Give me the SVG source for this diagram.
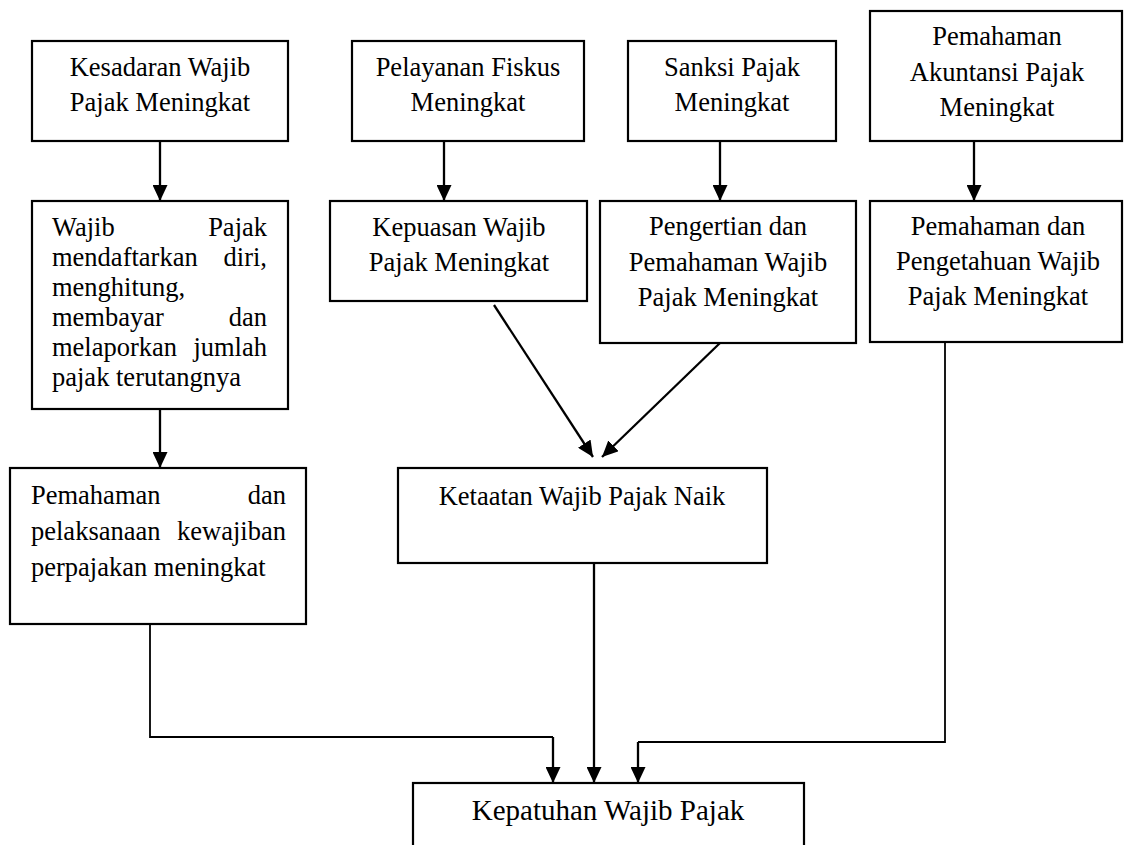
<svg xmlns="http://www.w3.org/2000/svg" width="1124" height="845" viewBox="0 0 1124 845">
<style>
.box{fill:#fff;stroke:#000;stroke-width:2.2}
.t{font-family:"Liberation Serif","Times New Roman",serif;font-size:26.5px;fill:#000}
.c{text-anchor:middle}
.e{text-anchor:end}
.big{font-size:29px}
.ln{fill:none;stroke:#000;stroke-width:2.3}
.hl{fill:none;stroke:#000;stroke-width:1.8}
</style>
<defs>
<marker id="ah" viewBox="0 0 16 15" refX="16" refY="7.5" markerWidth="16" markerHeight="15" markerUnits="userSpaceOnUse" orient="auto">
<path d="M0,0 L16,7.5 L0,15 z" fill="#000"/>
</marker>
</defs>
<rect width="1124" height="845" fill="#fff"/>
<g id="connectors">
<line class="ln" x1="160" y1="141" x2="160" y2="201" marker-end="url(#ah)"/>
<line class="ln" x1="444" y1="141" x2="444" y2="201" marker-end="url(#ah)"/>
<line class="ln" x1="720" y1="141" x2="720" y2="201" marker-end="url(#ah)"/>
<line class="ln" x1="974" y1="141" x2="974" y2="201" marker-end="url(#ah)"/>
<line class="ln" x1="160" y1="409" x2="160" y2="468" marker-end="url(#ah)"/>
<line class="ln" x1="494" y1="305" x2="593" y2="457" marker-end="url(#ah)"/>
<line class="ln" x1="720" y1="343" x2="602" y2="457" marker-end="url(#ah)"/>
<polyline class="hl" points="150,624 150,737 553,737"/>
<line class="ln" x1="553" y1="737" x2="553" y2="783" marker-end="url(#ah)"/>
<line class="ln" x1="594" y1="563" x2="594" y2="783" marker-end="url(#ah)"/>
<polyline class="hl" points="945,342 945,742 638,742"/>
<line class="ln" x1="638" y1="742" x2="638" y2="783" marker-end="url(#ah)"/>
</g>
<g id="n-kesadaran">
<rect class="box" x="32" y="41" width="256" height="100"/>
<text class="t c" x="160" y="76">Kesadaran Wajib</text>
<text class="t c" x="160" y="111">Pajak Meningkat</text>
</g>
<g id="n-pelayanan">
<rect class="box" x="352" y="41" width="232" height="100"/>
<text class="t c" x="468" y="76">Pelayanan Fiskus</text>
<text class="t c" x="468" y="111">Meningkat</text>
</g>
<g id="n-sanksi">
<rect class="box" x="628" y="41" width="208" height="100"/>
<text class="t c" x="732" y="76">Sanksi Pajak</text>
<text class="t c" x="732" y="111">Meningkat</text>
</g>
<g id="n-akuntansi">
<rect class="box" x="870" y="11" width="252" height="130"/>
<text class="t c" x="997" y="45">Pemahaman</text>
<text class="t c" x="997" y="81">Akuntansi Pajak</text>
<text class="t c" x="997" y="116">Meningkat</text>
</g>
<g id="n-wajib">
<rect class="box" x="32" y="201" width="256" height="208"/>
<text class="t" x="52" y="236">Wajib</text><text class="t e" x="267" y="236">Pajak</text>
<text class="t" x="52" y="266">mendaftarkan</text><text class="t e" x="267" y="266">diri,</text>
<text class="t" x="52" y="296">menghitung,</text>
<text class="t" x="52" y="326">membayar</text><text class="t e" x="267" y="326">dan</text>
<text class="t" x="52" y="356">melaporkan</text><text class="t e" x="267" y="356">jumlah</text>
<text class="t" x="52" y="386">pajak terutangnya</text>
</g>
<g id="n-kepuasan">
<rect class="box" x="330" y="201" width="257" height="100"/>
<text class="t c" x="459" y="236">Kepuasan Wajib</text>
<text class="t c" x="459" y="271">Pajak Meningkat</text>
</g>
<g id="n-pengertian">
<rect class="box" x="600" y="201" width="256" height="142"/>
<text class="t c" x="728" y="235">Pengertian dan</text>
<text class="t c" x="728" y="271">Pemahaman Wajib</text>
<text class="t c" x="728" y="306">Pajak Meningkat</text>
</g>
<g id="n-pengetahuan">
<rect class="box" x="870" y="201" width="252" height="141"/>
<text class="t c" x="998" y="235">Pemahaman dan</text>
<text class="t c" x="998" y="270">Pengetahuan Wajib</text>
<text class="t c" x="998" y="305">Pajak Meningkat</text>
</g>
<g id="n-pelaksanaan">
<rect class="box" x="10" y="468" width="296" height="156"/>
<text class="t" x="31" y="504">Pemahaman</text><text class="t e" x="286" y="504">dan</text>
<text class="t" x="31" y="540">pelaksanaan</text><text class="t e" x="286" y="540">kewajiban</text>
<text class="t" x="31" y="576">perpajakan meningkat</text>
</g>
<g id="n-ketaatan">
<rect class="box" x="398" y="468" width="369" height="95"/>
<text class="t c" x="582" y="505">Ketaatan Wajib Pajak Naik</text>
</g>
<g id="n-kepatuhan">
<rect class="box" x="413" y="783" width="391" height="80"/>
<text class="t c big" x="608" y="820">Kepatuhan Wajib Pajak</text>
</g>
</svg>
